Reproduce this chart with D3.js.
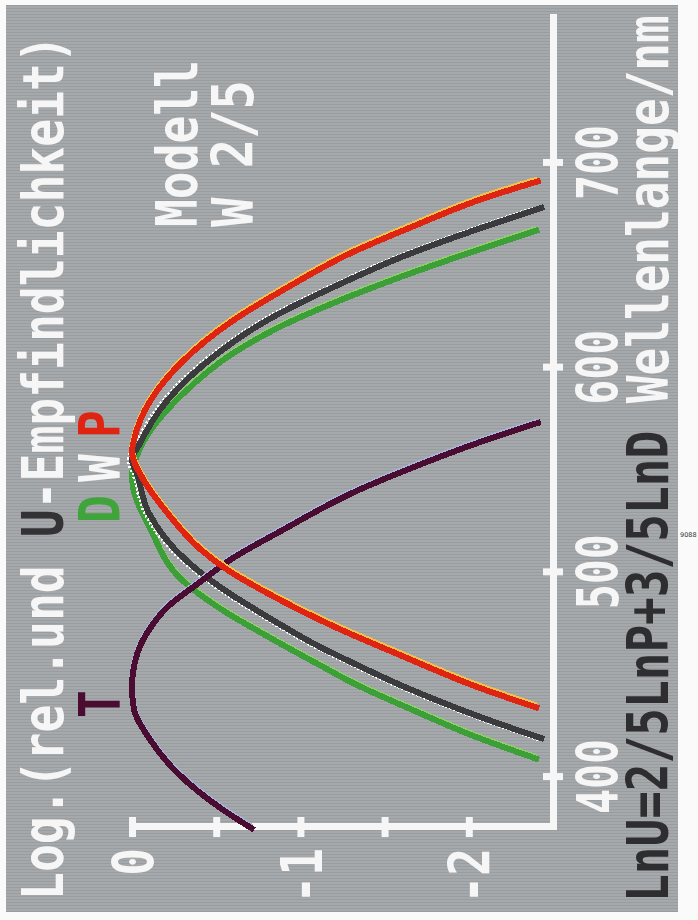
<!DOCTYPE html>
<html>
<head>
<meta charset="utf-8">
<script src="https://cdn.jsdelivr.net/npm/d3@7"></script>
<style>
  html, body { margin: 0; padding: 0; background: #fafafa; }
  svg { display: block; }
  text { font-family: "DejaVu Sans Mono", "Liberation Mono", monospace; font-weight: bold; }
</style>
</head>
<body>
<svg id="chart" width="698" height="920"></svg>
<script>
// log. relative sensitivity (chart is turned on its side)
const lambdaT = [375, 384, 402, 418, 434, 444, 460, 473, 483, 495, 507, 520, 540, 551, 564, 573];
const valueT  = [-0.71, -0.54, -0.27, -0.11, -0.01, 0, -0.03, -0.11, -0.21, -0.40, -0.60, -0.88, -1.34, -1.66, -2.08, -2.41];

const lambdaD = [409, 420, 433, 446, 454, 468, 483, 496, 521, 540, 547, 561, 587, 607, 620, 631, 642, 656, 667];
const valueD  = [-2.40, -2.03, -1.66, -1.31, -1.13, -0.82, -0.51, -0.30, -0.11, -0.01, 0, -0.05, -0.30, -0.60, -0.88, -1.18, -1.52, -2.00, -2.40];

const lambdaW = [419, 429, 444, 457, 463, 478, 493, 506, 529, 548, 555, 562, 584, 607, 623, 641, 654, 667, 678];
const valueW  = [-2.43, -2.08, -1.62, -1.28, -1.13, -0.81, -0.52, -0.32, -0.10, -0.03, 0, -0.04, -0.21, -0.51, -0.80, -1.24, -1.60, -2.03, -2.43];

const lambdaP = [434, 444, 460, 472, 490, 501, 511, 529, 545, 559, 564, 584, 603, 623, 639, 656, 668, 683, 691];
const valueP  = [-2.40, -2.05, -1.58, -1.24, -0.80, -0.57, -0.41, -0.21, -0.07, 0, -0.01, -0.11, -0.30, -0.60, -0.92, -1.30, -1.64, -2.10, -2.41];

const xTicks = [400, 500, 600, 700];
const yTicks = [0, -0.5, -1, -1.5, -2];
const yLabels = [0, -1, -2];

const svg = d3.select('#chart');
const defs = svg.append('defs');

// screen background with scan lines
const pat = defs.append('pattern')
  .attr('id', 'scan')
  .attr('patternUnits', 'userSpaceOnUse')
  .attr('width', 6).attr('height', 3);
pat.append('rect').attr('width', 6).attr('height', 3).attr('fill', '#a6a9ac');
pat.append('rect').attr('y', 2).attr('width', 6).attr('height', 1).attr('fill', '#9a9da0');

svg.append('rect')
  .attr('x', 6).attr('y', 5)
  .attr('width', 672).attr('height', 907)
  .attr('fill', 'url(#scan)');

svg.append('text')
  .attr('x', 680).attr('y', 537)
  .attr('font-size', 6.5)
  .attr('fill', '#333')
  .style('font-family', '"DejaVu Sans", sans-serif')
  .style('font-weight', 'normal')
  .text('9088');

// everything else is drawn unrotated, then turned by -90deg
const g = svg.append('g').attr('transform', 'translate(0,920) rotate(-90)');

const x = d3.scaleLinear().domain([375.6, 770.8]).range([93, 902]);
const y = d3.scaleLinear().domain([0, -2.5]).range([132, 553]);

const FS = 57;

function fitLen(sel, len) {
  const w = sel.node().getComputedTextLength();
  return len / w;
}

function label(u, base, parts, len, anchor) {
  const t = g.append('text')
    .attr('font-size', FS)
    .attr('text-anchor', anchor || 'start');
  parts.forEach(p => t.append('tspan').attr('fill', p[1]).text(p[0]));
  const k = len ? fitLen(t, len) : 0.81;
  t.attr('transform', `translate(${u},${base}) scale(${k},1)`);
  return t;
}

// axes
const xAxis = g.append('g')
  .attr('transform', `translate(0,${y(-2.5)})`)
  .call(d3.axisBottom(x).tickValues(xTicks).tickSize(10).tickSizeOuter(0));

const yAxis = g.append('g')
  .attr('transform', `translate(${x(375.6)},0)`)
  .call(d3.axisLeft(y).tickValues(yTicks).tickSize(10).tickSizeOuter(0)
    .tickFormat(d => yLabels.includes(d) ? String(d) : ''));

[xAxis, yAxis].forEach(a => {
  a.select('.domain').attr('stroke', '#f6f6f6').attr('stroke-width', 7).attr('stroke-linecap', 'square');
  a.selectAll('.tick line').attr('stroke', '#f6f6f6').attr('stroke-width', 7);
  a.selectAll('.tick text')
    .attr('fill', '#f6f6f6')
    .attr('font-size', FS)
    .attr('font-family', '"DejaVu Sans Mono", monospace')
    .attr('dy', null);
});
xAxis.selectAll('.tick line').attr('y1', -10).attr('y2', 10);
yAxis.selectAll('.tick line').attr('x1', -10).attr('x2', 10);
xAxis.selectAll('.tick text')
  .attr('y', 0)
  .attr('text-anchor', 'middle')
  .attr('transform', function () { return `translate(0,65) scale(${fitLen(d3.select(this), 75)},1)`; });
yAxis.selectAll('.tick text')
  .attr('x', 0)
  .attr('text-anchor', 'end')
  .attr('transform', 'translate(-21,21) scale(0.81,1)');

// curves
const series = [
  { lam: lambdaD, val: valueD, color: '#3d9f38', edge: '#8fcf6a', off: [1.5, 0], dash: null },
  { lam: lambdaW, val: valueW, color: '#3b3b3d', edge: '#ffffff', off: [0, -2.5], dash: '2 2' },
  { lam: lambdaT, val: valueT, color: '#4a0d31', edge: '#a6b6e0', off: [1.5, 0], dash: null },
  { lam: lambdaP, val: valueP, color: '#df2412', edge: '#f4c24a', off: [2, 0], dash: null }
];

const line = d3.line()
  .x(d => x(d[0]))
  .y(d => y(d[1]))
  .curve(d3.curveMonotoneX);

series.forEach(s => {
  const pts = s.lam.map((l, i) => [l, s.val[i]]);
  g.append('path')
    .attr('d', line(pts))
    .attr('transform', `translate(${s.off[0]},${s.off[1]})`)
    .attr('fill', 'none')
    .attr('stroke', s.edge)
    .attr('stroke-width', 6)
    .attr('stroke-dasharray', s.dash)
    .attr('shape-rendering', 'crispEdges');
  g.append('path')
    .attr('d', line(pts))
    .attr('fill', 'none')
    .attr('stroke', s.color)
    .attr('stroke-width', 6)
    .attr('stroke-linecap', 'square')
    .attr('shape-rendering', 'crispEdges');
});

// texts
label(20, 63, [['Log.(rel.und ', '#f6f6f6'], ['U', '#333335'], ['-Empfindlichkeit)', '#f6f6f6']], 865);
label(18, 668, [['LnU=2/5LnP+3/5LnD', '#2e2e30'], [' Wellenlange/nm', '#f6f6f6']], 887);
label(693, 197, [['Modell', '#f6f6f6']], 167);
label(693, 253, [['W 2/5', '#f6f6f6']], 147);
label(202, 120, [['T', '#4a0d31']]);
label(397, 120, [['D', '#3fa53a']]);
label(438, 120, [['W', '#f6f6f6']]);
label(482, 120, [['P', '#df2412']]);
</script>
</body>
</html>
